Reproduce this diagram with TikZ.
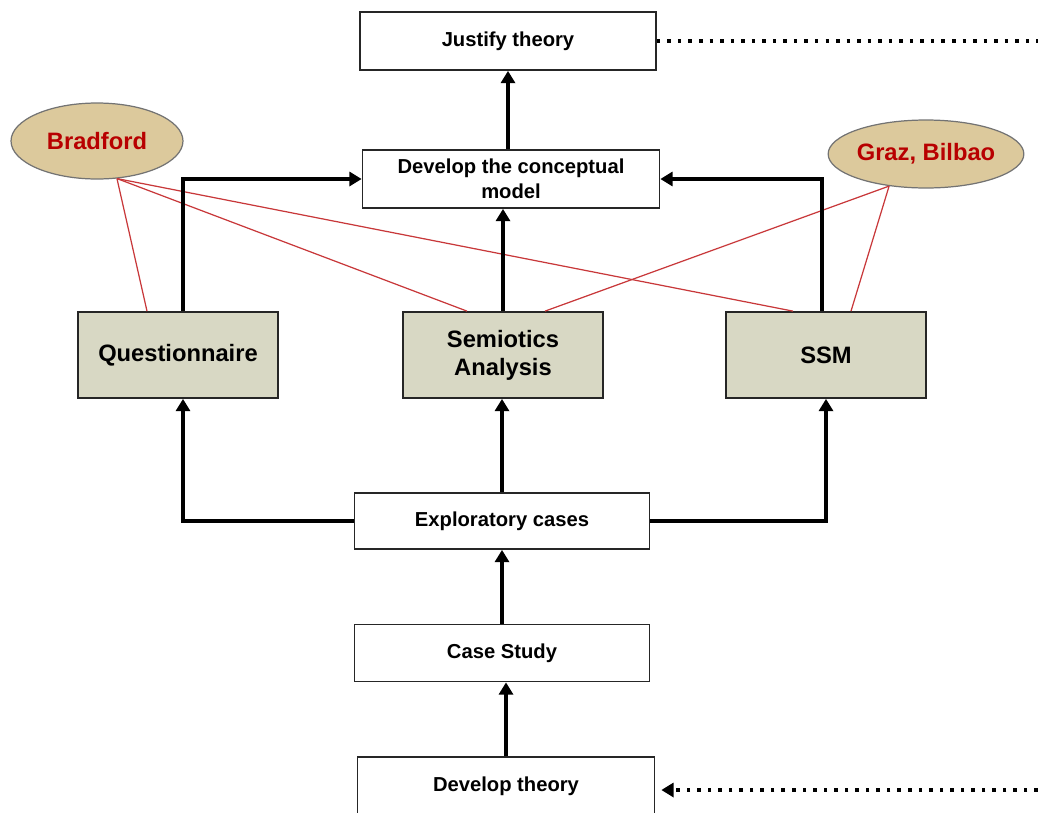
\documentclass[tikz,border=0pt]{standalone}
\usepackage{fontspec}
\setmainfont{Liberation Sans}
\usetikzlibrary{arrows.meta,shapes.geometric}
\definecolor{boxfill}{HTML}{D8D8C4}
\definecolor{ellfill}{HTML}{DCC99C}
\definecolor{darkred}{HTML}{B80000}
\definecolor{redline}{HTML}{C8383A}
\tikzset{
  plainbox/.style={draw=black!85, line width=1pt, fill=white, inner sep=0pt, align=center,
    font=\bfseries\fontsize{11.5}{14}\selectfont},
  bigbox/.style={draw=black!85, line width=1pt, fill=boxfill, inner sep=0pt, align=center,
    minimum width=4cm, minimum height=1.72cm, font=\bfseries\fontsize{13.5}{16}\selectfont},
  place/.style={ellipse, draw=black!55, line width=0.7pt, fill=ellfill, inner sep=0pt,
    text=darkred, font=\bfseries\fontsize{13.5}{16}\selectfont},
  flow/.style={line width=2.1pt, -{Triangle[length=7pt,width=8pt]}},
  link/.style={redline, line width=0.7pt},
  dotline/.style={line width=2pt, dash pattern=on 2pt off 4pt}
}
\begin{document}
\begin{tikzpicture}[x=0.02cm,y=-0.02cm]
\useasboundingbox (0,0) rectangle (1038,812);
\clip (0,0) rectangle (1038,812);
\node[plainbox, minimum width=5.92cm, minimum height=1.16cm] (justify) at (508,41) {Justify theory};
\node[plainbox, minimum width=5.94cm, minimum height=1.16cm] (concept) at (511,179) {Develop the conceptual\\model};
\node[bigbox] (quest) at (178,355) {Questionnaire};
\node[bigbox] (semi) at (503,355) {Semiotics\\Analysis};
\node[bigbox] (ssm) at (826,355) {SSM};
\node[plainbox, minimum width=5.9cm, minimum height=1.12cm] (expl) at (502,521) {Exploratory cases};
\node[plainbox, minimum width=5.9cm, minimum height=1.14cm] (case) at (502,653) {Case Study};
\node[plainbox, minimum width=5.94cm, minimum height=1.16cm] (devth) at (506,786) {Develop theory};
\node[place, minimum width=3.44cm, minimum height=1.52cm] (brad) at (97,141) {Bradford};
\node[place, minimum width=3.86cm, minimum height=1.36cm] (graz) at (926,154) {Graz, Bilbao};
\coordinate (rt) at (1038,41);
\coordinate (rb) at (1038,790);

% red links
\draw[link] (brad.-62) -- ([xshift=-0.62cm]quest.north);
\draw[link] (brad.-62) -- ([xshift=-0.72cm]semi.north);
\draw[link] (brad.-62) -- ([xshift=-0.66cm]ssm.north);
\draw[link] (graz.-139) -- ([xshift=0.84cm]semi.north);
\draw[link] (graz.-139) -- ([xshift=0.5cm]ssm.north);

% flows
\draw[flow] ([xshift=0.1cm]quest.north) |- (concept.west);
\draw[flow] ([xshift=-0.08cm]ssm.north) |- (concept.east);
\draw[flow] (semi.north) -- (semi.north |- concept.south);
\draw[flow] (concept.north -| justify.south) -- (justify.south);
\draw[flow] (expl.west) -| ([xshift=0.1cm]quest.south);
\draw[flow] (expl.east) -| (ssm.south);
\draw[flow] (expl.north) -- (expl.north |- semi.south);
\draw[flow] (case.north) -- (expl.south);
\draw[flow] (devth.north) -- (devth.north |- case.south);

% dotted
\draw[dotline] (justify.east) -- (rt);
\draw[dotline, -{Triangle[length=7pt,width=8pt]}, shorten >=0.12cm] (rb) -- (rb -| devth.east);
\end{tikzpicture}
\end{document}
